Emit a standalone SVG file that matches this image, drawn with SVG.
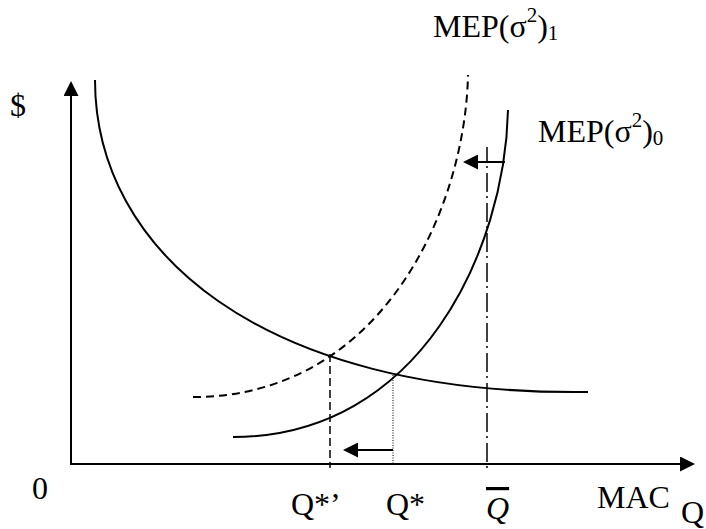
<svg xmlns="http://www.w3.org/2000/svg" width="706" height="529" viewBox="0 0 706 529">
<style>
.t{font-family:"Liberation Serif","Times New Roman",serif;font-size:32px;fill:#000}
.s{font-size:21px}
.c{fill:none;stroke:#000;stroke-width:2}
.ax{stroke:#000;stroke-width:2;fill:none}
</style>
<defs>
<marker id="ah" markerUnits="userSpaceOnUse" markerWidth="15" markerHeight="15" viewBox="0 0 15 15" refX="5" refY="7.5" orient="auto">
<path d="M0,0 L15,7.5 L0,15 z" fill="#000"/>
</marker>
</defs>
<rect width="706" height="529" fill="#fff"/>
<g id="axes">
<line class="ax" x1="71" y1="465" x2="71" y2="91" marker-end="url(#ah)"/>
<line class="ax" x1="70" y1="464" x2="685" y2="464" marker-end="url(#ah)"/>
</g>
<g id="mac">
<path class="c" d="M95,80 C95,250 260,396 588,392"/>
</g>
<g id="mep0">
<path class="c" d="M233,437 C420,437 505,250 508,110"/>
</g>
<g id="mep1">
<path class="c" stroke-dasharray="8,5" d="M193,397 C380,397 465,212 468,75"/>
</g>
<g id="connectors">
<line x1="330" y1="354" x2="330" y2="468" stroke="#000" stroke-width="1.5" stroke-dasharray="8,4"/>
<line x1="393" y1="375" x2="393" y2="464" stroke="#000" stroke-width="1" stroke-dasharray="1,1.5"/>
<line x1="487" y1="147" x2="487" y2="468" stroke="#000" stroke-width="1.5" stroke-dasharray="19,4,2,5" stroke-dashoffset="4"/>
<line class="ax" x1="393" y1="450" x2="353" y2="450" marker-end="url(#ah)"/>
<line class="ax" x1="505" y1="162" x2="473" y2="162" marker-end="url(#ah)"/>
</g>
<g id="labels">
<text class="t" x="10" y="116">$</text>
<text class="t" x="32" y="499">0</text>
<text class="t" x="681" y="523">Q</text>
<text class="t" x="597" y="508">MAC</text>
<text class="t" x="291" y="515">Q*’</text>
<text class="t" x="386" y="515">Q*</text>
<text class="t" x="486" y="519" font-style="italic" text-decoration="overline">Q</text>
<text class="t" x="433" y="37">MEP(σ<tspan class="s" dy="-15">2</tspan><tspan dy="15">)</tspan><tspan class="s" dy="3">1</tspan></text>
<text class="t" x="538" y="142">MEP(σ<tspan class="s" dy="-15">2</tspan><tspan dy="15">)</tspan><tspan class="s" dy="3">0</tspan></text>
</g>
</svg>
